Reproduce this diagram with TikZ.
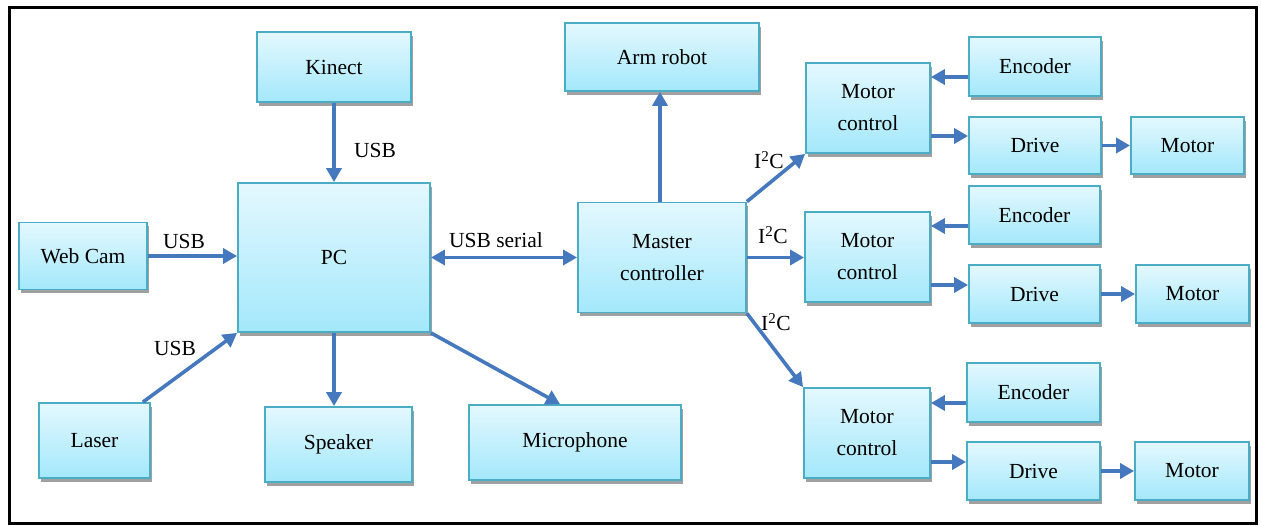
\documentclass[tikz,border=0pt]{standalone}
\usepackage{fontspec}
\setmainfont{Liberation Serif}
\usepackage{xcolor}
\usepackage{tikz}
\usetikzlibrary{arrows.meta,shadows}
\definecolor{boxline}{RGB}{75, 172, 198}
\definecolor{boxtop}{RGB}{228, 248, 254}
\definecolor{boxbot}{RGB}{163, 232, 251}
\definecolor{linkblue}{RGB}{70, 120, 190}
\definecolor{shadowgray}{RGB}{160, 160, 160}
\tikzset{
	block/.style = {draw = boxline, line width = 1.8pt, top color = boxtop, bottom color = boxbot,
		inner sep = 0pt, align = center, font = \fontsize{21.5}{32}\selectfont,
		drop shadow = {shadow xshift = 2pt, shadow yshift = -4pt, fill = shadowgray, opacity = 1}},
	link/.style = {draw = linkblue, line width = 3.6pt, -{Triangle[length = 14pt, width = 15pt]}},
	tag/.style = {inner sep = 0pt, font = \fontsize{21.5}{26}\selectfont}
}

\begin{document}
\begin{tikzpicture}[x = 1pt, y = -1pt]
	\useasboundingbox (0,0) rectangle (1261,526);
	\draw[line width = 3pt] (9,7.5) rectangle (1256,523.5);
	% left part
	\node (kinect) at (334,67) [block, minimum width = 154pt, minimum height = 70pt] {Kinect};
	\node (pc) at (334,257.5) [block, minimum width = 192pt, minimum height = 149pt] {PC};
	\node (webcam) at (83,256) [block, minimum width = 128pt, minimum height = 67pt] {Web Cam};
	\node (laser) at (94.5,440.5) [block, minimum width = 111pt, minimum height = 75pt] {Laser};
	\node (speaker) at (338.5,444.5) [block, minimum width = 147pt, minimum height = 75pt] {Speaker};
	\node (mic) at (575,442.5) [block, minimum width = 212pt, minimum height = 75pt] {Microphone};
	\node (master) at (662,257.5) [block, minimum width = 168pt, minimum height = 110pt] {Master\\controller};
	\node (arm) at (662,57) [block, minimum width = 194pt, minimum height = 68pt] {Arm robot};
	% motor chains
	\node (mc1) at (868,108) [block, minimum width = 124pt, minimum height = 90pt] {Motor\\control};
	\node (enc1) at (1035,66.5) [block, minimum width = 132pt, minimum height = 59pt] {Encoder};
	\node (drv1) at (1035,145.5) [block, minimum width = 132pt, minimum height = 57pt] {Drive};
	\node (mot1) at (1187.5,145.5) [block, minimum width = 113pt, minimum height = 57pt] {Motor};
	\node (mc2) at (867.5,257) [block, minimum width = 125pt, minimum height = 90pt] {Motor\\control};
	\node (enc2) at (1034.5,215) [block, minimum width = 131pt, minimum height = 58pt] {Encoder};
	\node (drv2) at (1034.5,294) [block, minimum width = 131pt, minimum height = 58pt] {Drive};
	\node (mot2) at (1192.5,294) [block, minimum width = 113pt, minimum height = 58pt] {Motor};
	\node (mc3) at (867,433) [block, minimum width = 126pt, minimum height = 90pt] {Motor\\control};
	\node (enc3) at (1033.5,392.5) [block, minimum width = 133pt, minimum height = 59pt] {Encoder};
	\node (drv3) at (1033.5,471) [block, minimum width = 133pt, minimum height = 58pt] {Drive};
	\node (mot3) at (1192,471) [block, minimum width = 114pt, minimum height = 58pt] {Motor};
	% links
	\draw[link] (kinect) -- (pc);
	\draw[link] (webcam) -- (webcam -| pc.west);
	\draw[link] ([xshift = -8pt]laser.north east) -- (pc.south west);
	\draw[link] (pc.south) -- (pc.south |- speaker.north);
	\draw[link] (pc.south east) -- ([xshift = -15pt]mic.north);
	\draw[link, {Triangle[length = 14pt, width = 15pt]}-{Triangle[length = 14pt, width = 15pt]}] (pc) -- (master);
	\draw[link] ([xshift = -2pt]master.north) -- ([xshift = -2pt]arm.south);
	\draw[link] (master.north east) -- (mc1.south west);
	\draw[link] (master.east) -- (master.east -| mc2.west);
	\draw[link] (master.south east) -- (mc3.north west);
	\coordinate (e1) at ([yshift = -10.5pt]enc1.west);
	\coordinate (e2) at ([yshift = -11pt]enc2.west);
	\coordinate (e3) at ([yshift = -10.5pt]enc3.west);
	\coordinate (d1) at ([yshift = 9.5pt]drv1.west);
	\coordinate (d2) at ([yshift = 9pt]drv2.west);
	\coordinate (d3) at ([yshift = 9pt]drv3.west);
	\draw[link] (e1) -- (e1 -| mc1.east);
	\draw[link] (e2) -- (e2 -| mc2.east);
	\draw[link] (e3) -- (e3 -| mc3.east);
	\draw[link] (d1 -| mc1.east) -- (d1);
	\draw[link] (d2 -| mc2.east) -- (d2);
	\draw[link] (d3 -| mc3.east) -- (d3);
	\draw[link] (drv1) -- (mot1);
	\draw[link] (drv2) -- (mot2);
	\draw[link] (drv3) -- (mot3);
	% labels
	\node (usbk) at (375,150) [tag] {USB};
	\node (usbw) at (184,241) [tag] {USB};
	\node (usbl) at (175,348) [tag] {USB};
	\node (usbs) at (496,240) [tag] {USB serial};
	\node (iic1) at (769,160) [tag] {I\textsuperscript{2}C};
	\node (iic2) at (773,235) [tag] {I\textsuperscript{2}C};
	\node (iic3) at (776,322) [tag] {I\textsuperscript{2}C};
\end{tikzpicture}
\end{document}
